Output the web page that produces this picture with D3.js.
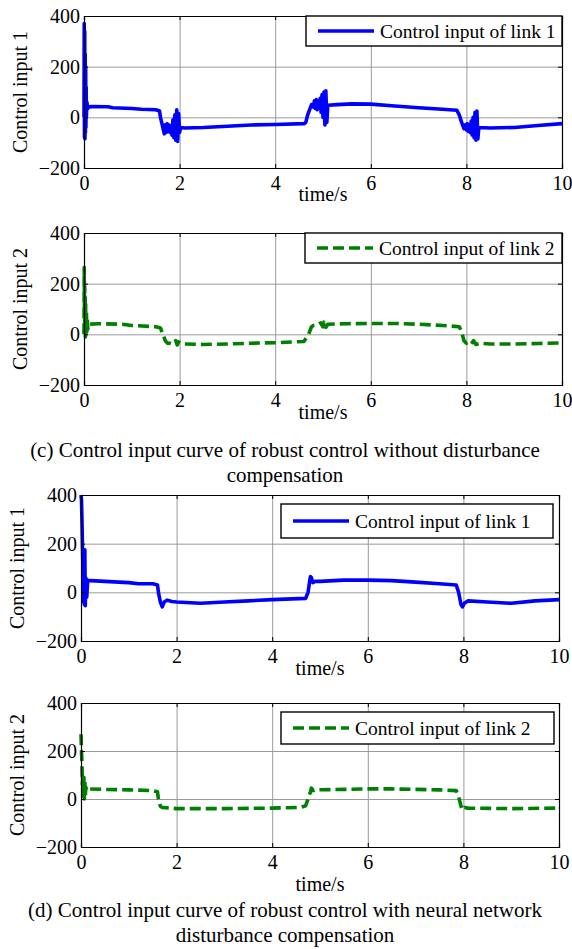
<!DOCTYPE html>
<html lang="en">
<head>
  <meta charset="UTF-8">
  <title>Control input curves</title>
  <script src="https://d3js.org/d3.v7.min.js"></script>
  <style>
    body { margin: 0; background: #fff; }
    svg { display: block; }
    svg text { font-family: "Liberation Serif", "Times New Roman", serif; fill: #000; }
    .tick text { font-size: 20px; }
    .grid line { stroke: #9a9a9a; stroke-width: 1; }
    .grid path { display: none; }
  </style>
</head>
<body>
  <div id="chart"></div>

  <script>
    // tick labels
    const xTicks = [0, 2, 4, 6, 8, 10];
    const yTicks = [-200, 0, 200, 400];

    // (c) without compensation, link 1
    const tC1 = [0, 0.005, 0.01, 0.015, 0.02, 0.025, 0.03, 0.035, 0.04, 0.045, 0.05, 0.06, 0.08, 0.1, 0.15, 0.5, 0.6, 1.0, 1.2, 1.5, 1.58,
      1.6, 1.65, 1.68, 1.7, 1.72, 1.74, 1.76, 1.78, 1.8, 1.82, 1.84, 1.86, 1.88, 1.9, 1.92, 1.94, 1.96, 1.98, 2.0, 2.02, 2.1, 2.5, 3.0, 3.5, 4.0, 4.6,
      4.64, 4.68, 4.72, 4.76, 4.8, 4.82, 4.84, 4.86, 4.88, 4.9, 4.92, 4.94, 4.96, 4.98, 5.0, 5.02, 5.04, 5.06, 5.08, 5.1, 5.3, 5.6, 6.0, 6.5, 7.0, 7.5, 7.8,
      7.85, 7.9, 7.95, 7.98, 8.0, 8.02, 8.04, 8.06, 8.08, 8.1, 8.12, 8.14, 8.16, 8.18, 8.2, 8.22, 8.24, 8.26, 8.5, 9.0, 9.5, 10];
    const uC1 = [0, 370, -80, 340, -85, 250, -60, 200, -40, 120, 0, 60, 35, 40, 43, 42, 38, 35, 32, 30, 25,
      0, -40, -65, -30, -60, -25, -55, -30, -60, -35, -70, -10, -80, 10, -90, 30, -95, 15, -60, -40, -42, -40, -35, -30, -28, -25,
      -20, 10, 30, 50, 40, 65, 35, 70, 30, 60, 40, 75, 20, 90, 0, 100, -30, 105, -20, 48, 50, 53, 52, 45, 38, 32, 28,
      10, -20, -45, -30, -50, -25, -55, -30, -60, -15, -70, 0, -80, 20, -90, 25, -85, -40, -42, -40, -32, -25];

    // (c) without compensation, link 2
    const tC2 = [0, 0.005, 0.01, 0.015, 0.02, 0.025, 0.03, 0.035, 0.04, 0.05, 0.06, 0.07, 0.08, 0.1, 0.3, 0.8, 1.0, 1.5, 1.6, 1.65, 1.7, 1.75, 1.8, 1.85,
      1.9, 1.92, 1.95, 1.98, 2.05, 2.5, 3.0, 3.5, 4.0, 4.6, 4.7, 4.76, 4.8, 4.9, 4.95, 5.0, 5.02, 5.06, 5.1, 5.5, 6.0, 6.5, 7.0, 7.5, 7.85,
      7.9, 7.95, 8.0, 8.05, 8.1, 8.15, 8.2, 8.3, 8.5, 9.0, 9.5, 10];
    const uC2 = [0, 265, 100, 190, 20, 150, -10, 120, 0, 90, 10, 60, 20, 40, 42, 40, 35, 30, 25, 0, -25, -35, -35, -38,
      -30, -25, -42, -30, -38, -40, -38, -35, -33, -28, 0, 30, 35, 38, 45, 30, 48, 28, 40, 42, 43, 43, 40, 35, 30,
      10, -25, -35, -30, -38, -25, -40, -35, -38, -38, -36, -34];

    // (d) with NN compensation, link 1
    const tD1 = [0, 0.01, 0.02, 0.03, 0.04, 0.05, 0.06, 0.07, 0.08, 0.09, 0.1, 0.12, 0.14, 0.2, 0.5, 1.0, 1.2, 1.5, 1.6, 1.62, 1.66, 1.7, 1.74, 1.8,
      1.9, 2.0, 2.5, 3.0, 3.5, 4.0, 4.7, 4.75, 4.78, 4.8, 4.82, 4.85, 4.9, 5.0, 5.5, 6.0, 6.5, 7.0, 7.5, 7.85, 7.9, 7.95, 7.98, 8.02, 8.1,
      8.5, 9.0, 9.5, 10];
    const uD1 = [400, 380, 300, 200, 100, -40, 100, -50, 175, -55, 60, -20, 50, 48, 45, 40, 35, 35, 30, 0, -40, -60, -40, -32,
      -38, -40, -45, -40, -35, -30, -25, 0, 40, 65, 60, 40, 45, 45, 50, 50, 48, 42, 35, 30, 0, -50, -60, -45, -35,
      -40, -45, -35, -30];

    // (d) with NN compensation, link 2
    const tD2 = [0, 0.01, 0.02, 0.03, 0.04, 0.05, 0.06, 0.07, 0.08, 0.09, 0.1, 0.12, 0.15, 0.5, 1.0, 1.5, 1.6, 1.62, 1.66, 1.7, 2.0, 3.0, 4.0,
      4.6, 4.7, 4.75, 4.8, 4.82, 4.86, 4.9, 5.5, 6.0, 6.5, 7.0, 7.5, 7.85, 7.9, 7.95, 7.98, 8.02, 8.1, 9.0, 10];
    const uD2 = [270, 200, 150, 60, 100, 10, 90, 0, 80, 10, 50, 35, 42, 40, 38, 35, 30, 0, -30, -35, -40, -40, -38,
      -35, -28, 0, 30, 45, 35, 38, 40, 42, 42, 40, 38, 35, 10, -30, -45, -35, -38, -40, -38];

    const panels = [
      { t: tC1, u: uC1, name: "Control input of link 1", ylab: "Control input 1", color: "#0000ff", dash: null,
        left: 84, right: 562, top: 16, bottom: 168, leg: [306, 16, 256, 30], ylabX: 20, xlabY: 201 },
      { t: tC2, u: uC2, name: "Control input of link 2", ylab: "Control input 2", color: "#008000", dash: "11,5",
        left: 84, right: 562, top: 233, bottom: 385, leg: [305, 233, 257, 30], ylabX: 20, xlabY: 419 },
      { t: tD1, u: uD1, name: "Control input of link 1", ylab: "Control input 1", color: "#0000ff", dash: null,
        left: 81, right: 559, top: 495, bottom: 641, leg: [281, 504, 272, 34], ylabX: 17, xlabY: 675 },
      { t: tD2, u: uD2, name: "Control input of link 2", ylab: "Control input 2", color: "#008000", dash: "11,5",
        left: 81, right: 559, top: 703, bottom: 847, leg: [281, 712, 273, 32], ylabX: 17, xlabY: 891 }
    ];

    const captions = [
      { y: 457, text: "(c) Control input curve of robust control without disturbance" },
      { y: 482, text: "compensation" },
      { y: 917, text: "(d) Control input curve of robust control with neural network" },
      { y: 942, text: "disturbance compensation" }
    ];

    const svg = d3.select("#chart").append("svg")
      .attr("width", 572)
      .attr("height", 949);

    panels.forEach(p => {
      const x = d3.scaleLinear().domain([0, 10]).range([p.left, p.right]);
      const y = d3.scaleLinear().domain([-200, 400]).range([p.bottom, p.top]);
      const w = p.right - p.left, h = p.bottom - p.top;
      const g = svg.append("g");

      // grid
      g.append("g").attr("class", "grid")
        .attr("transform", `translate(0,${p.bottom})`)
        .call(d3.axisBottom(x).tickValues(xTicks.slice(1, -1)).tickSize(-h).tickFormat(""));
      g.append("g").attr("class", "grid")
        .attr("transform", `translate(${p.left},0)`)
        .call(d3.axisLeft(y).tickValues(yTicks.slice(1, -1)).tickSize(-w).tickFormat(""));

      // data line
      const pts = p.t.map((t, i) => [t, p.u[i]]);
      const line = d3.line().x(d => x(d[0])).y(d => y(d[1]));
      g.append("path")
        .datum(pts)
        .attr("fill", "none")
        .attr("stroke", p.color)
        .attr("stroke-width", 3.6)
        .attr("stroke-linejoin", "round")
        .attr("stroke-dasharray", p.dash)
        .attr("d", line);

      // axes with inward ticks
      g.append("g").attr("transform", `translate(0,${p.bottom})`)
        .call(d3.axisBottom(x).tickValues(xTicks).tickSize(-4).tickPadding(8));
      g.append("g").attr("transform", `translate(${p.left},0)`)
        .call(d3.axisLeft(y).tickValues(yTicks).tickSize(-4).tickPadding(4));
      g.append("g").attr("transform", `translate(0,${p.top})`)
        .call(d3.axisTop(x).tickValues(xTicks).tickSize(-4).tickFormat(""));
      g.append("g").attr("transform", `translate(${p.right},0)`)
        .call(d3.axisRight(y).tickValues(yTicks).tickSize(-4).tickFormat(""));
      g.selectAll("g").attr("font-family", null).attr("font-size", null);
      g.selectAll(".domain").attr("stroke", "#000").attr("stroke-width", 1.2);
      g.selectAll(".tick line").filter(function() { return !this.parentNode.parentNode.classList.contains("grid"); })
        .attr("stroke", "#000");

      // legend
      const [lx, ly, lw, lh] = p.leg;
      g.append("rect")
        .attr("x", lx).attr("y", ly).attr("width", lw).attr("height", lh)
        .attr("fill", "#fff").attr("stroke", "#000").attr("stroke-width", 1.4);
      g.append("line")
        .attr("x1", lx + 12).attr("x2", lx + 68)
        .attr("y1", ly + lh / 2).attr("y2", ly + lh / 2)
        .attr("stroke", p.color).attr("stroke-width", 3.6)
        .attr("stroke-dasharray", p.dash);
      g.append("text")
        .attr("x", lx + 74).attr("y", ly + lh / 2)
        .attr("dy", "0.35em")
        .attr("font-size", 19.5)
        .text(p.name);

      // y title
      g.append("text")
        .attr("transform", `translate(${p.ylabX},${(p.top + p.bottom) / 2}) rotate(-90)`)
        .attr("text-anchor", "middle")
        .attr("dy", "0.35em")
        .attr("font-size", 20)
        .text(p.ylab);

      // x title
      g.append("text")
        .attr("x", (p.left + p.right) / 2)
        .attr("y", p.xlabY)
        .attr("text-anchor", "middle")
        .attr("font-size", 20)
        .text("time/s");
    });

    svg.selectAll(".caption")
      .data(captions)
      .enter().append("text")
      .attr("class", "caption")
      .attr("x", 285)
      .attr("y", d => d.y)
      .attr("text-anchor", "middle")
      .attr("font-size", 21)
      .text(d => d.text);
  </script>
</body>
</html>
